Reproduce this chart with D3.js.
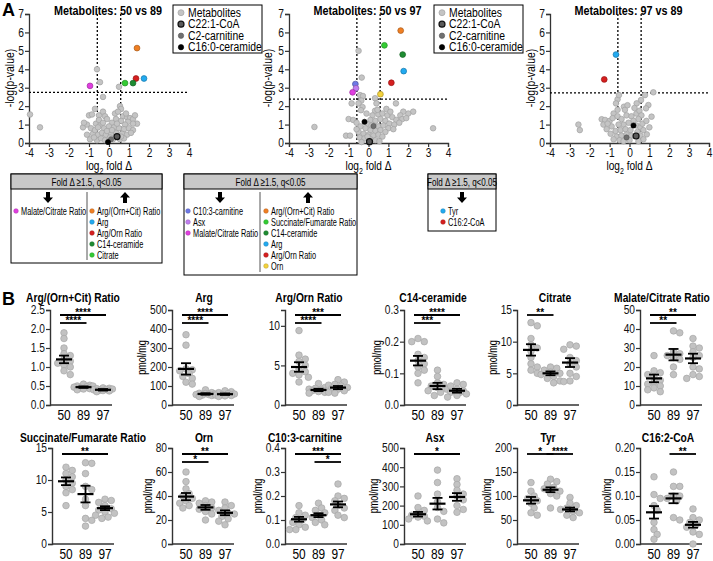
<!DOCTYPE html>
<html><head><meta charset="utf-8">
<script src="https://cdn.jsdelivr.net/npm/d3@7"></script>
<style>
body{margin:0;background:#fff}
svg{display:block;font-family:"Liberation Sans",Arial,sans-serif}
</style></head><body><svg id="c" width="713" height="561"></svg>
<script>
// ================= DATA =================
const volcanoTitles = ["Metabolites: 50 vs 89", "Metabolites: 50 vs 97", "Metabolites: 97 vs 89"];
const volcanoXTicks = [-4, -3, -2, -1, 0, 1, 2, 3, 4];
const volcanoYTicks = [0, 1, 2, 3, 4, 5, 6, 7];
const pThresholds = [2.75, 2.38, 2.72];
const foldThreshold = 0.585;
const legendNames = ["Metabolites", "C22:1-CoA", "C2-carnitine", "C16:0-ceramide"];

const volcanoGrey1 = [[-0.6,4.0],[-0.45,3.3],[0.5,3.05],[-0.3,2.5],[-3.95,1.55],[-3.45,0.85],
 [0.55,2.0],[0.6,1.85],[-0.7,1.85],[-1.0,1.5],[-0.85,1.55],[-0.5,1.5],[-0.3,1.7],[-0.2,1.45],[-0.1,1.3],
 [0.3,1.6],[0.45,1.7],[0.7,1.45],[0.9,1.4],[1.05,1.35],[1.2,1.3],[1.4,1.05],[1.2,1.05],[0.95,1.15],[0.8,1.0],
 [0.6,1.2],[0.35,1.3],[0.15,1.1],[-1.3,0.85],[-1.1,1.0],[-0.9,0.8],[-0.65,1.05],[-0.45,0.95],[-0.25,0.8],
 [0.0,0.9],[0.25,0.85],[0.5,0.8],[0.75,0.75],[1.0,0.8],[1.2,0.7],[-1.1,0.45],[-0.8,0.5],[-0.55,0.45],
 [-0.35,0.55],[-0.15,0.45],[0.1,0.5],[0.35,0.55],[0.65,0.5],[0.9,0.45],[-0.95,0.2],[-0.6,0.15],[-0.4,0.25],
 [-0.2,0.15],[0.2,0.2],[0.55,0.2],[0.75,0.25],[-0.7,0.7],[-0.5,1.25],[0.85,1.6],[1.3,1.5],[-0.1,0.65],
 [0.6,0.35],[1.1,0.55],[-1.25,1.1],[0.05,0.3],[-0.55,0.85],[0.4,1.05],[-0.3,1.1],[0.15,0.7],[-0.75,0.3]];
const volcanoGrey2 = [[-0.5,5.0],[-0.34,3.55],[-0.43,2.6],[-0.28,2.55],[-0.36,2.3],[-0.5,2.15],[-0.85,2.15],
 [-0.3,1.95],[-0.38,1.78],[0.33,2.43],[0.4,2.15],[0.33,1.75],[1.38,2.15],[2.25,1.7],[2.0,1.6],[1.75,1.7],
 [1.6,1.5],[-1.0,1.3],[-0.77,1.25],[-0.6,1.1],[-1.13,0.4],[-0.93,0.4],[-2.72,0.87],[3.25,0.8],
 [0.2,1.5],[0.5,1.55],[0.7,1.6],[0.95,1.5],[1.2,1.4],[1.4,1.25],[1.7,1.3],[1.9,1.35],[0.1,1.25],[0.35,1.2],
 [0.6,1.3],[0.85,1.2],[1.05,1.05],[1.3,1.0],[1.55,1.1],[0.0,1.0],[0.25,0.95],[0.5,0.9],[0.75,0.95],[1.0,0.8],
 [1.25,0.75],[-0.4,0.9],[-0.15,0.8],[0.1,0.7],[0.35,0.65],[0.6,0.7],[0.85,0.6],[-0.5,0.6],[-0.25,0.5],
 [0.0,0.45],[0.25,0.4],[0.5,0.45],[0.7,0.35],[-0.45,0.3],[-0.2,0.25],[0.1,0.2],[0.35,0.15],[-0.35,0.05],
 [0.55,0.1],[-0.6,0.75],[0.45,1.8],[0.9,1.85],[-0.1,1.6],[1.1,1.7],[0.15,0.95],[-0.05,0.35]];
const volcanoGrey3 = [[1.2,2.75],[-0.6,2.37],[-0.53,2.6],[-0.68,2.15],[-0.6,1.8],[-0.8,1.6],[0.78,2.6],
 [0.58,2.33],[0.36,2.15],[0.95,2.06],[0.83,1.88],[1.11,1.43],[-0.28,1.97],[-0.23,1.8],[-1.4,1.29],
 [-1.23,1.25],[-1.31,1.0],[-2.57,1.0],[-2.5,0.7],[1.0,0.85],[0.87,0.47],[-1.0,1.2],[-0.85,1.35],
 [-0.6,1.45],[-0.4,1.3],[-0.15,1.5],[0.1,1.45],[0.35,1.6],[0.5,1.75],[0.6,1.5],[0.45,1.3],[0.2,1.2],
 [-0.05,1.1],[-0.3,1.0],[-0.55,1.0],[-0.9,0.9],[-1.15,0.75],[-0.7,0.65],[-0.45,0.7],[-0.2,0.75],[0.05,0.7],
 [0.35,0.95],[0.55,0.85],[0.7,0.7],[0.4,0.6],[-0.95,0.5],[-0.65,0.35],[-0.4,0.4],[-0.15,0.45],[0.1,0.4],
 [0.55,0.4],[0.7,0.2],[-0.5,0.15],[-0.3,0.1],[0.0,0.15],[0.45,0.1],[-0.8,0.2],[0.25,1.9],[-0.1,2.05],
 [0.65,1.05],[-1.1,1.05],[0.85,1.2]];
const volcanoSpecial = [
 [[0.4,0.35],[0.1,0.2],[-0.05,0.05]],
 [[0.05,0.07],[0.25,0.92],[-0.2,1.15]],
 [[0.33,0.38],[-0.15,0.3],[0.2,0.95]]];
const volcanoHits = [
 [["Arg/(Orn+Cit) Ratio",1.4,5.15],["Arg/Orn Ratio",1.35,3.5],["Arg",1.75,3.5],["Citrate",0.8,3.25],["C14-ceramide",1.2,3.25],["Malate/Citrate Ratio",-0.95,3.1]],
 [["Arg/(Orn+Cit) Ratio",1.62,6.1],["Succinate/Fumarate Ratio",0.8,5.3],["C14-ceramide",1.72,4.8],["Arg",1.77,3.9],["Arg/Orn Ratio",1.15,3.27],["Orn",0.6,2.65],["C10:3-carnitine",-0.66,3.2],["Asx",-0.63,2.97],["Malate/Citrate Ratio",-0.8,2.75]],
 [["Tyr",-0.68,4.8],["C16:2-CoA",-1.27,3.45]]];

const foldHeader = "Fold \u0394 \u22651.5, q<0.05";
const foldDown = [["Malate/Citrate Ratio"], ["C10:3-carnitine","Asx","Malate/Citrate Ratio"], ["Tyr","C16:2-CoA"]];
const foldUp = [["Arg/(Orn+Cit) Ratio","Arg","Arg/Orn Ratio","C14-ceramide","Citrate"],
 ["Arg/(Orn+Cit) Ratio","Succinate/Fumarate Ratio","C14-ceramide","Arg","Arg/Orn Ratio","Orn"], []];

// Panel B
const groups = ["50", "89", "97"];
const metaNames = ["Arg/(Orn+Cit) Ratio","Arg","Arg/Orn Ratio","C14-ceramide","Citrate","Malate/Citrate Ratio",
 "Succinate/Fumarate Ratio","Orn","C10:3-carnitine","Asx","Tyr","C16:2-CoA"];
const units = ["","pmol/mg","","pmol/mg","pmol/mg","","","pmol/mg","pmol/mg","pmol/mg","pmol/mg","pmol/mg"];
const yMax = [2.5,500,12,0.3,15,50,15,80,0.4,500,200,0.2];
const yTicks = [[0,0.5,1,1.5,2,2.5],[0,100,200,300,400,500],[0,5,10],[0,0.1,0.2,0.3],[0,5,10,15],[0,10,20,30,40,50],
 [0,5,10,15],[0,20,40,60,80],[0,0.1,0.2,0.3,0.4],[0,100,200,300,400,500],[0,50,100,150,200],[0,0.05,0.1,0.15,0.2]];
const tickDecimals = [1,0,0,1,0,0,0,0,1,0,0,2];

const pointsArgOrnCit = [[1.9,1.75,1.5,1.35,1.3,1.2,1.15,1.1,1.05,1.0,0.9,0.8],[0.55,0.52,0.5,0.48,0.47,0.45,0.43,0.42,0.4,0.5],[0.45,0.43,0.42,0.4,0.38,0.37,0.35,0.44,0.41,0.39]];
const pointsArg = [[370,315,190,185,180,165,150,140,120,110],[80,65,60,58,55,52,50,55,62,45],[75,70,65,60,55,50,48,52,58,45]];
const pointsArgOrn = [[9.4,6.3,5.8,5.5,5.0,4.5,4.2,4.0,3.8,3.5,2.9],[2.7,2.2,2.0,1.9,1.8,1.7,1.6,1.5,1.9,2.1],[3.2,2.9,2.6,2.4,2.2,2.0,1.8,1.6,1.5,2.1,2.5]];
const pointsC14 = [[0.21,0.2,0.2,0.16,0.15,0.14,0.13,0.12,0.11,0.1,0.07],[0.11,0.09,0.07,0.065,0.06,0.05,0.045,0.04,0.03,0.055],[0.07,0.065,0.06,0.05,0.045,0.04,0.035,0.03,0.025,0.04]];
const pointsCitrate = [[13.0,12.5,10.5,9.5,9.0,8.5,7.5,6.5,6.0,5.5,5.0],[6.0,5.8,5.5,5.2,5.0,4.8,4.5,4.2,3.8,3.5],[9.5,9.3,8.8,7.5,7.0,6.5,6.0,5.0,4.5,3.8,3.7]];
const pointsMalCit = [[26,18,17,16,15,13,12,11,10,9,8,7],[39,38,28,27,26,25,24,20,16],[35,31,30,28,26,25,20,19,16,15,14]];
const pointsSucFum = [[12,11.5,11,10.5,10,9.5,9,8.5,8,6],[12.7,12.6,11,9,8.5,7,6,4,3.7,2.8],[7,6.8,6.5,6,5.5,5.3,5,4.8,4.5,4.2,4]];
const pointsOrn = [[60,52,46,42,40,38,36,34,32,30],[36,35,34,32,30,29,27,25,20],[35,32,30,28,26,25,23,21,19,16]];
const pointsC103 = [[0.16,0.13,0.12,0.11,0.1,0.09,0.08,0.07,0.06,0.06],[0.17,0.15,0.13,0.12,0.11,0.1,0.09,0.08,0.14],[0.25,0.2,0.19,0.18,0.16,0.15,0.14,0.12,0.11]];
const pointsAsx = [[250,190,175,160,150,145,140,130,120],[385,320,260,220,190,170,130,110],[340,310,280,260,250,230,200,180,165]];
const pointsTyr = [[128,110,100,95,90,85,75,65,60],[135,130,125,118,115,110,105,100,75],[97,85,80,75,72,68,65,60,55]];
const pointsC162 = [[0.14,0.103,0.095,0.08,0.07,0.045,0.03,0.02,0.01],[0.15,0.12,0.12,0.1,0.1,0.095,0.09,0.055,0.05],[0.073,0.055,0.05,0.045,0.04,0.035,0.025,0.02,0.0]];
const allPoints = [pointsArgOrnCit,pointsArg,pointsArgOrn,pointsC14,pointsCitrate,pointsMalCit,pointsSucFum,pointsOrn,pointsC103,pointsAsx,pointsTyr,pointsC162];

const means = [[1.2,0.47,0.4],[190,58,57],[4.8,1.9,2.2],[0.14,0.06,0.045],[8.7,5.0,6.7],[14,26.5,24.5],
 [9.8,7.8,5.6],[39.5,30.5,26],[0.103,0.12,0.165],[155,210,245],[91,113,72],[0.066,0.095,0.04]];
const sems = [[0.1,0.02,0.02],[30,4,4],[0.6,0.15,0.2],[0.015,0.01,0.006],[0.9,0.3,0.7],[2,3,2.5],
 [0.6,1.3,0.3],[3,2,2],[0.01,0.008,0.012],[12,30,20],[7,5,4],[0.013,0.01,0.006]];
// significance: [groupA, groupB, stars, level(0 = upper, 1 = lower)]
const sigs = [
 [[0,1,"****",1],[0,2,"****",0]],
 [[0,1,"****",1],[0,2,"****",0]],
 [[0,1,"****",1],[0,2,"***",0]],
 [[0,1,"***",1],[0,2,"****",0]],
 [[0,1,"**",0]],
 [[0,1,"**",1],[0,2,"**",0]],
 [[0,2,"**",0]],
 [[0,1,"*",1],[0,2,"**",0]],
 [[0,2,"***",0],[1,2,"*",1]],
 [[0,2,"*",0]],
 [[0,1,"*",0],[1,2,"****",0]],
 [[1,2,"**",0]]];

// ================= STYLE / LAYOUT =================
const hitColor = {"Arg/(Orn+Cit) Ratio":"#f07f23","Arg":"#22aaf0","Arg/Orn Ratio":"#d61f1f","C14-ceramide":"#1e8c32",
 "Citrate":"#33cc33","Succinate/Fumarate Ratio":"#33cc33","Malate/Citrate Ratio":"#e03ee0","C10:3-carnitine":"#6d78e6",
 "Asx":"#c07ef0","Orn":"#f4d23c","Tyr":"#22aaf0","C16:2-CoA":"#d61f1f"};
const specialFill = ["#5a5a5a","#707070","#000"];
const specialStroke = ["#111","#555","#000"];
const svg = d3.select("#c");
const AX = "#333";

// condense text horizontally (narrow typeface look)
function cond(sel, c){
  sel.each(function(){
    const L = this.getComputedTextLength();
    if(L>0){ this.setAttribute("textLength", (L*c).toFixed(2)); this.setAttribute("lengthAdjust","spacingAndGlyphs"); }
  });
  return sel;
}

svg.append("text").attr("x",2).attr("y",16).attr("font-size",18).attr("font-weight","bold").text("A");
svg.append("text").attr("x",2).attr("y",305).attr("font-size",18).attr("font-weight","bold").text("B");

// ---- Volcano plots ----
const volcLayout = [{x0:29,x1:189,ylab:11},{x0:289,x1:448,ylab:269},{x0:550,x1:709,ylab:532}];
const greys = [volcanoGrey1, volcanoGrey2, volcanoGrey3];
volcLayout.forEach((L,i)=>{
  const g = svg.append("g");
  const x = d3.scaleLinear().domain([-4,4]).range([L.x0,L.x1]);
  const y = d3.scaleLinear().domain([0,7]).range([143,14]);
  const ya = g.append("g").attr("transform",`translate(${L.x0},0)`).call(d3.axisLeft(y).tickValues(volcanoYTicks).tickSize(4).tickFormat(d3.format("d")));
  const xa = g.append("g").attr("transform",`translate(0,143)`).call(d3.axisBottom(x).tickValues(volcanoXTicks).tickSize(4).tickFormat(d=>d<0?"-"+Math.abs(d):d));
  [ya,xa].forEach(a=>{a.select(".domain").attr("stroke",AX).attr("stroke-width",1.3);
    a.selectAll(".tick line").attr("stroke",AX).attr("stroke-width",1.2);
    a.selectAll("text").attr("font-size",12).attr("fill","#111").attr("font-family",null);
    cond(a.selectAll("text"),0.85);});
  ya.selectAll("text").attr("x",-5);
  xa.selectAll("text").attr("y",5);
  g.append("line").attr("x1",x(-4)).attr("x2",x(4)).attr("y1",y(pThresholds[i])).attr("y2",y(pThresholds[i]))
   .attr("stroke","#000").attr("stroke-width",1.3).attr("stroke-dasharray","2,2");
  [-foldThreshold, foldThreshold].forEach(f=>{
    g.append("line").attr("x1",x(f)).attr("x2",x(f)).attr("y1",y(7)).attr("y2",y(0))
     .attr("stroke","#000").attr("stroke-width",1.3).attr("stroke-dasharray","2,2");});
  g.selectAll(".gp").data(greys[i]).join("circle").attr("cx",d=>x(d[0])).attr("cy",d=>y(d[1])).attr("r",2.8)
   .attr("fill","#c4c4c4").attr("stroke","#a2a2a2").attr("stroke-width",0.7);
  volcanoSpecial[i].forEach((d,k)=>{
    g.append("circle").attr("cx",x(d[0])).attr("cy",y(d[1])).attr("r",k===0?3:2.6)
     .attr("fill",specialFill[k]).attr("stroke",specialStroke[k]).attr("stroke-width",k===0?1.2:0.6);});
  volcanoHits[i].forEach(d=>{
    g.append("circle").attr("cx",x(d[1])).attr("cy",y(d[2])).attr("r",2.9)
     .attr("fill",hitColor[d[0]]).attr("stroke",d3.color(hitColor[d[0]]).darker(1)).attr("stroke-width",0.7);});
  cond(g.append("text").attr("x",(L.x0+L.x1)/2 - 1).attr("y",15).attr("text-anchor","middle").attr("font-size",13.5)
   .attr("font-weight","bold").text(volcanoTitles[i]), 0.8);
  cond(g.append("text").attr("transform",`translate(${L.ylab},78) rotate(-90)`).attr("text-anchor","middle")
   .attr("dominant-baseline","middle").attr("font-size",13).text("-log(p-value)"), 0.8);
  const xl = g.append("text").attr("transform",`translate(${x(0)},170) scale(0.78,1)`).attr("text-anchor","middle").attr("font-size",13);
  xl.append("tspan").text("log");
  xl.append("tspan").attr("font-size",9).attr("dy",4).text("2");
  xl.append("tspan").attr("dy",-4).text(" fold \u0394");
});

// legends for volcano plots 1 & 2
[173, 434].forEach(lx=>{
  const g = svg.append("g");
  g.append("rect").attr("x",lx).attr("y",5).attr("width",89).attr("height",48).attr("fill","#fff").attr("stroke","#000").attr("stroke-width",1);
  legendNames.forEach((n,k)=>{
    const cy = 12.7 + k*11.5;
    if(k===0) g.append("circle").attr("cx",lx+8).attr("cy",cy).attr("r",3).attr("fill","#c4c4c4").attr("stroke","#a2a2a2").attr("stroke-width",0.7);
    else g.append("circle").attr("cx",lx+8).attr("cy",cy).attr("r",k===1?3:2.7).attr("fill",specialFill[k-1]).attr("stroke",specialStroke[k-1]).attr("stroke-width",k===1?1.2:0.6);
    cond(g.append("text").attr("x",lx+15).attr("y",cy+4.2).attr("font-size",12.5).text(n), 0.83);
  });
});

// ---- Fold change boxes ----
function arrow(g, cx, top, up){
  const p = up
    ? `M${cx},${top} L${cx+5},${top+5.5} L${cx+2},${top+5.5} L${cx+2},${top+11} L${cx-2},${top+11} L${cx-2},${top+5.5} L${cx-5},${top+5.5} Z`
    : `M${cx},${top+11} L${cx+5},${top+5.5} L${cx+2},${top+5.5} L${cx+2},${top} L${cx-2},${top} L${cx-2},${top+5.5} L${cx-5},${top+5.5} Z`;
  g.append("path").attr("d",p).attr("fill","#000");
}
const boxLayout = [{x0:11,x1:162,bottom:263,div:87,downX:48,upX:125,dotL:16,dotR:92},
                   {x0:184,x1:357,bottom:275,div:260,downX:220,upX:308,dotL:188,dotR:266},
                   {x0:428,x1:496,bottom:231,div:null,downX:462,upX:null,dotL:443,dotR:null}];
boxLayout.forEach((B,i)=>{
  const g = svg.append("g");
  g.append("rect").attr("x",B.x0).attr("y",174).attr("width",B.x1-B.x0).attr("height",B.bottom-174).attr("fill","#fff").attr("stroke","#000").attr("stroke-width",1);
  g.append("rect").attr("x",B.x0).attr("y",174).attr("width",B.x1-B.x0).attr("height",15).attr("fill","#c8c8c8").attr("stroke","#000").attr("stroke-width",1);
  cond(g.append("text").attr("x",(B.x0+B.x1)/2).attr("y",185.5).attr("text-anchor","middle").attr("font-size",11.5).text(foldHeader), 0.7);
  if(B.div!==null) g.append("line").attr("x1",B.div).attr("x2",B.div).attr("y1",192).attr("y2",B.bottom-3).attr("stroke","#555").attr("stroke-width",1);
  arrow(g,B.downX,192,false);
  if(B.upX!==null) arrow(g,B.upX,192,true);
  const items = [[foldDown[i],B.dotL],[foldUp[i],B.dotR]];
  items.forEach(([list,dx])=>{
    list.forEach((n,k)=>{
      const cy = 211 + k*11;
      g.append("circle").attr("cx",dx).attr("cy",cy).attr("r",2.3).attr("fill",hitColor[n]).attr("stroke",d3.color(hitColor[n]).darker(0.8)).attr("stroke-width",0.5);
      cond(g.append("text").attr("x",dx+5).attr("y",cy+4.2).attr("font-size",11).text(n), 0.67);
    });
  });
});

// ---- Panel B ----
const bLayout = [
 {ax:50,row:0,tx:73},{ax:172,row:0,tx:204},{ax:285,row:0,tx:309},{ax:404,row:0,tx:433},{ax:517,row:0,tx:555},{ax:640,row:0,tx:662},
 {ax:52,row:1,tx:83},{ax:172,row:1,tx:204},{ax:285,row:1,tx:305},{ax:404,row:1,tx:435},{ax:517,row:1,tx:548},{ax:640,row:1,tx:668}];
const rows = [{top:310,bottom:405,titleY:302,labelY:420,sigY:[315,323]},
              {top:448,bottom:544,titleY:442,labelY:559,sigY:[454,462]}];
const R = 3.3;
function swarm(vals, y, cx){
  const order = vals.map(v=>({v,py:y(v)})).sort((a,b)=>a.py-b.py);
  const cand = [0,1,-1,2,-2,3,-3].map(k=>k*R*0.95);
  const placed=[];
  for(const p of order){
    let chosen=null, bestOff=0, bestD=-1;
    for(const off of cand){
      const d = placed.length? d3.min(placed,q=>Math.hypot(q.x-(cx+off), q.py-p.py)) : 99;
      if(d>=R*1.7){chosen=off;break;}
      if(d>bestD){bestD=d;bestOff=off;}
    }
    p.x=cx+(chosen===null?bestOff:chosen); placed.push(p);
  }
  return placed;
}
bLayout.forEach((L,i)=>{
  const row = rows[L.row];
  const g = svg.append("g");
  const y = d3.scaleLinear().domain([0,yMax[i]]).range([row.bottom,row.top]);
  const x = d3.scalePoint().domain(groups).range([L.ax+14,L.ax+53]);
  const ya = g.append("g").attr("transform",`translate(${L.ax},0)`).call(d3.axisLeft(y).tickValues(yTicks[i]).tickSize(4).tickFormat(d3.format("."+tickDecimals[i]+"f")));
  ya.select(".domain").attr("stroke",AX).attr("stroke-width",1.4);
  ya.selectAll(".tick line").attr("stroke",AX).attr("stroke-width",1.2);
  ya.selectAll("text").attr("font-size",12).attr("fill","#111").attr("font-family",null).attr("x",-5);
  cond(ya.selectAll("text"),0.85);
  g.append("line").attr("x1",L.ax).attr("x2",L.ax+62).attr("y1",row.bottom).attr("y2",row.bottom).attr("stroke",AX).attr("stroke-width",1.4);
  groups.forEach(gr=>{
    cond(g.append("text").attr("x",x(gr)).attr("y",row.labelY).attr("text-anchor","middle").attr("font-size",14).text(gr),0.85);
  });
  if(units[i]){
    const bb = ya.node().getBBox();
    cond(g.append("text").attr("transform",`translate(${L.ax+bb.x-4},${(row.top+row.bottom)/2}) rotate(-90)`)
     .attr("text-anchor","middle").attr("font-size",12).text(units[i]),0.75);
  }
  cond(g.append("text").attr("x",L.tx).attr("y",row.titleY).attr("text-anchor","middle").attr("font-size",13.5).attr("font-weight","bold").text(metaNames[i]),0.76);
  allPoints[i].forEach((vals,gi)=>{
    const pts = swarm(vals,y,x(groups[gi]));
    g.selectAll(null).data(pts).join("circle").attr("cx",d=>d.x).attr("cy",d=>d.py).attr("r",R)
     .attr("fill","#c2c2c2").attr("stroke","#a6a6a6").attr("stroke-width",0.7);
  });
  means[i].forEach((m,gi)=>{
    const cx = x(groups[gi]), s = sems[i][gi];
    g.append("line").attr("x1",cx-8).attr("x2",cx+8).attr("y1",y(m)).attr("y2",y(m)).attr("stroke","#000").attr("stroke-width",2.2);
    g.append("line").attr("x1",cx).attr("x2",cx).attr("y1",y(m-s)).attr("y2",y(m+s)).attr("stroke","#000").attr("stroke-width",1.8);
    [m-s,m+s].forEach(v=>g.append("line").attr("x1",cx-5).attr("x2",cx+5).attr("y1",y(v)).attr("y2",y(v)).attr("stroke","#000").attr("stroke-width",1.8));
  });
  sigs[i].forEach(s=>{
    const yy = row.sigY[s[3]];
    const xa1 = x(groups[s[0]])-4, xa2 = x(groups[s[1]])+3;
    g.append("line").attr("x1",xa1).attr("x2",xa2).attr("y1",yy).attr("y2",yy).attr("stroke","#000").attr("stroke-width",1.8);
    g.append("text").attr("x",(xa1+xa2)/2).attr("y",yy+0.5).attr("text-anchor","middle").attr("font-size",10).attr("font-weight","bold").text(s[2]);
  });
});
</script></body></html>
